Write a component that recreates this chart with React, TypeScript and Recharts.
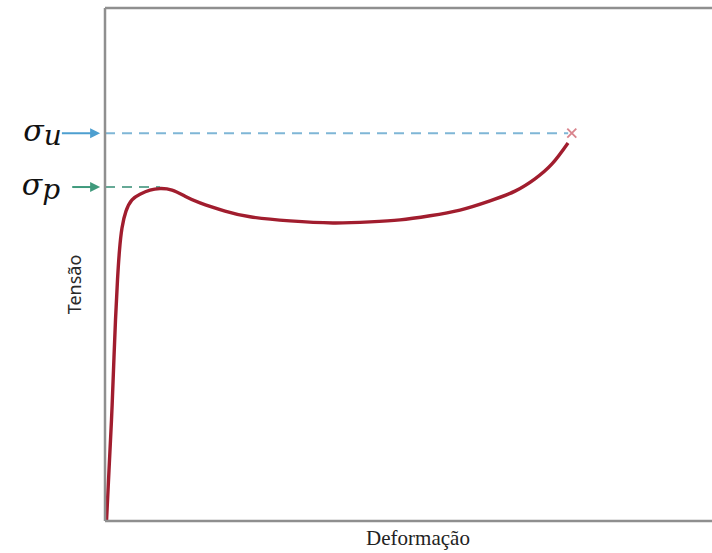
import { ComposedChart, Line, XAxis, YAxis, ReferenceLine, ReferenceDot } from 'recharts';

// curva tensão x deformação (unidades relativas, 0..100)
const DEFORMACAO = [0.25, 0.66, 1.07, 1.4, 1.73, 2.06, 2.39, 2.8, 3.46, 4.45, 5.77, 7.41, 9.06, 11.04, 13.18, 15.65, 19.77, 23.89, 30.48, 37.56, 43.66, 48.6, 53.54, 58.48, 63.43, 67.55, 70.84, 73.64, 76.28];
const TENSAO = [0, 9.9, 19.7, 29.4, 39.2, 47.0, 52.8, 57.1, 60.4, 62.6, 63.7, 64.5, 64.8, 64.5, 63.3, 62.0, 60.4, 59.3, 58.5, 58.1, 58.3, 58.7, 59.5, 60.6, 62.4, 64.3, 66.7, 69.6, 73.7];

const SIGMA_U = 75.6;
const SIGMA_P = 65.1;
const RUPTURA_X = 76.9;
const FIM_U = 76.3;
const FIM_P = 9.1;
const SETA_U = [-7.1, -0.8];
const SETA_P = [-5.4, -0.8];

const dados = DEFORMACAO.map((d, i) => ({ def: d, tensao: TENSAO[i] }));

const MOLDURA = '#8f8f8f';

function Seta(cor: string) {
  return (p: any) => {
    const { x1, y1, x2, y2 } = p;
    return (
      <g>
        <line x1={x1} y1={y1} x2={x2 - 4} y2={y2} stroke={cor} strokeWidth={2} />
        <path d={`M${x2 - 10},${y2 - 5} L${x2},${y2} L${x2 - 10},${y2 + 5} Z`} fill={cor} />
      </g>
    );
  };
}

function Sigma(sub: string) {
  return (p: any) => (
    <text
      x={p.cx}
      y={p.cy + 8}
      textAnchor="end"
      style={{ fontFamily: 'DejaVu Serif, serif', fontStyle: 'italic', fontSize: 30 }}
      fill="#111"
    >
      σ<tspan style={{ fontSize: 28 }} dy={4}>{sub}</tspan>
    </text>
  );
}

function Ruptura(p: any) {
  const s = 4.5;
  return (
    <g stroke="#d9848d" strokeWidth={1.8}>
      <line x1={p.cx - s} y1={p.cy - s} x2={p.cx + s} y2={p.cy + s} />
      <line x1={p.cx - s} y1={p.cy + s} x2={p.cx + s} y2={p.cy - s} />
    </g>
  );
}

function RotuloY(p: any) {
  const x = p.viewBox.x + 21;
  const y = p.viewBox.y + p.viewBox.height / 2 + 20;
  return (
    <text
      x={x}
      y={y}
      transform={`rotate(-90 ${x} ${y})`}
      textAnchor="middle"
      fontFamily="Noto Sans, Open Sans, sans-serif"
      fontSize={18}
      fill="#2a2a2a"
    >
      Tensão
    </text>
  );
}

export default function App() {
  return (
    <div style={{ position: 'absolute', left: 0, top: 0, width: 712, height: 553, background: '#fff' }}>
      <ComposedChart width={712} height={553} data={dados} margin={{ top: 8, left: 60, right: 0, bottom: 2 }}>
        <XAxis
          dataKey="def"
          type="number"
          domain={[0, 100]}
          height={30}
          tick={false}
          tickLine={false}
          axisLine={{ stroke: MOLDURA, strokeWidth: 2.5 }}
        />
        <YAxis
          type="number"
          domain={[0, 100]}
          width={45}
          tick={false}
          tickLine={false}
          axisLine={{ stroke: MOLDURA, strokeWidth: 2.5 }}
          label={<RotuloY />}
        />
        <ReferenceLine y={100} stroke={MOLDURA} strokeWidth={2.5} />
        <ReferenceLine
          segment={[{ x: 0, y: SIGMA_U }, { x: FIM_U, y: SIGMA_U }]}
          stroke="#7fb6d6"
          strokeWidth={2}
          strokeDasharray="10 7"
        />
        <ReferenceLine
          segment={[{ x: 0, y: SIGMA_P }, { x: FIM_P, y: SIGMA_P }]}
          stroke="#66a996"
          strokeWidth={2}
          strokeDasharray="10 7"
        />
        <ReferenceLine
          segment={[{ x: SETA_U[0], y: SIGMA_U }, { x: SETA_U[1], y: SIGMA_U }]}
          ifOverflow="visible"
          shape={Seta('#4d9fd0')}
        />
        <ReferenceLine
          segment={[{ x: SETA_P[0], y: SIGMA_P }, { x: SETA_P[1], y: SIGMA_P }]}
          ifOverflow="visible"
          shape={Seta('#3f9a7c')}
        />
        <ReferenceDot x={SETA_U[0]} y={SIGMA_U} ifOverflow="visible" shape={Sigma('u')} />
        <ReferenceDot x={-7.4} y={SIGMA_P} ifOverflow="visible" shape={Sigma('p')} />
        <Line
          type="natural"
          dataKey="tensao"
          stroke="#a11d2e"
          strokeWidth={3.4}
          dot={false}
          activeDot={false}
          isAnimationActive={false}
        />
        <ReferenceDot x={RUPTURA_X} y={SIGMA_U} ifOverflow="visible" shape={Ruptura} />
      </ComposedChart>
      <div
        style={{
          position: 'absolute',
          left: 318,
          top: 526,
          width: 200,
          textAlign: 'center',
          fontFamily: '"Liberation Serif", "Times New Roman", serif',
          fontSize: 21,
          color: '#222',
          lineHeight: '24px',
        }}
      >
        Deformação
      </div>
    </div>
  );
}
